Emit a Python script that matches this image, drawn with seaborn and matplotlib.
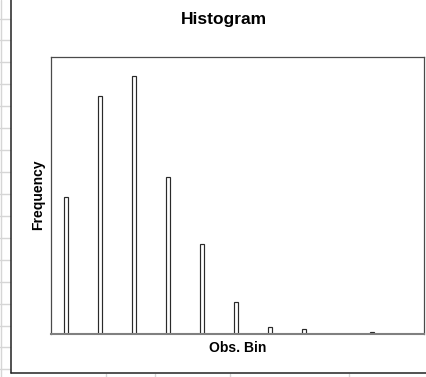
import matplotlib
matplotlib.use("Agg")
import matplotlib.pyplot as plt
import seaborn as sns
import pandas as pd
from matplotlib.lines import Line2D

# ---- data ----
bins = [str(i) for i in range(1, 12)]
counts = [99, 172, 186, 113, 65, 23, 5, 3, 0, 1, 0]
title = "Histogram"
xlabel = "Obs. Bin"
ylabel = "Frequency"

sns.set_theme(style="white")
plt.rcParams['font.family'] = ['Liberation Sans', 'DejaVu Sans']

W, H = 426, 377
fig = plt.figure(figsize=(W / 100, H / 100), dpi=100)
fig.patch.set_facecolor('white')


def fx(px):
    return px / W


def fy(py):
    return 1 - py / H


# spreadsheet grid visible around the embedded chart
grid_c = '#d6d6d6'
for k in range(17):
    y = 18.5 + 21.93 * k
    fig.add_artist(Line2D([0, fx(10)], [fy(y), fy(y)], color=grid_c, lw=1))
fig.add_artist(Line2D([fx(0.8), fx(0.8)], [0, 1], color=grid_c, lw=1))
for x in [106, 155, 230, 349]:
    fig.add_artist(Line2D([fx(x), fx(x)], [fy(373.5), 0], color=grid_c, lw=1))

# chart area border
fig.add_artist(Line2D([fx(10.5), fx(10.5)], [fy(373), 1], color='#222222', lw=1.1))
fig.add_artist(Line2D([fx(10.5), 1], [fy(373), fy(373)], color='#222222', lw=1.1))

# plot area
L, R, T, B = 50.5, 424.0, 57.0, 333.5
ax = fig.add_axes([fx(L), fy(B), fx(R) - fx(L), fy(T) - fy(B)])
df = pd.DataFrame({'bin': bins, 'count': counts})
sns.barplot(data=df, x='bin', y='count', color='white', saturation=1,
            edgecolor='#2a2a2a', linewidth=0.85, width=0.12, ax=ax)
ax.set_ylim(0, 200)
ax.set_xlim(-0.47, len(bins) - 0.47)
ax.set_xticks([])
ax.set_yticks([])
ax.set_facecolor('white')

for side in ['left', 'top', 'right']:
    ax.spines[side].set_color('#4a4a4a')
    ax.spines[side].set_linewidth(0.9)
ax.spines['bottom'].set_color('#808080')
ax.spines['bottom'].set_linewidth(1.5)

pw, ph = R - L, B - T
ax.set_xlabel(xlabel, fontsize=10, fontweight='bold', color='black')
ax.xaxis.label.set_va('baseline')
ax.xaxis.set_label_coords(0.5, (B - 351.7) / ph)

ax.set_ylabel(ylabel, fontsize=10, fontweight='bold', color='black')
ax.yaxis.label.set_va('baseline')
ax.yaxis.label.set_rotation_mode('anchor')
ax.yaxis.set_label_coords((41.7 - L) / pw, 0.5)

ax.set_title(title, fontsize=12.5, fontweight='bold', color='black',
             x=(223.7 - L) / pw, y=(B - 32.0) / ph, va='baseline', ha='center')

fig.savefig('out.png', dpi=100)
